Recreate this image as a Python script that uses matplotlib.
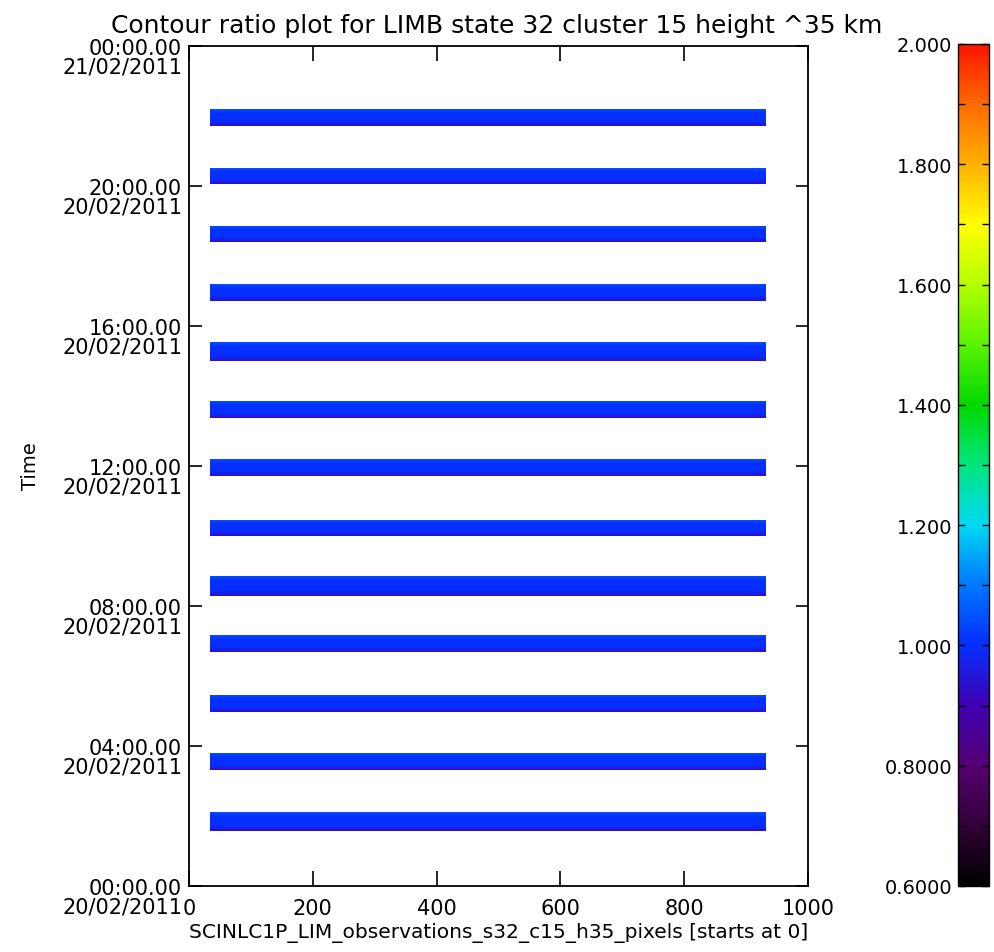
import numpy as np
import matplotlib
matplotlib.use('Agg')
import matplotlib.pyplot as plt
from matplotlib.colors import LinearSegmentedColormap
from matplotlib.transforms import ScaledTranslation

# time of each measurement band, hours after 00:00 20/02/2011
band_start = [1.57, 3.29, 4.97, 6.67, 8.27, 9.98, 11.71, 13.35, 15.00, 16.70, 18.38, 20.05, 21.71]
band_end = [2.10, 3.76, 5.45, 7.13, 8.84, 10.43, 12.17, 13.81, 15.53, 17.16, 18.83, 20.50, 22.19]
pixel_first = 34
pixel_last = 932
# ratio across each band, bottom row to top row
band_profile = [0.94, 0.98, 1.00, 1.00, 1.005, 1.00, 1.01, 1.04]

ytick_hours = [0, 4, 8, 12, 16, 20, 24]
ytick_labels = ['00:00.00\n20/02/2011', '04:00.00\n20/02/2011', '08:00.00\n20/02/2011',
                '12:00.00\n20/02/2011', '16:00.00\n20/02/2011', '20:00.00\n20/02/2011',
                '00:00.00\n21/02/2011']
xticks = [0, 200, 400, 600, 800, 1000]
cbar_ticks = [0.6, 0.8, 1.0, 1.2, 1.4, 1.6, 1.8, 2.0]
cbar_labels = ['0.6000', '0.8000', '1.000', '1.200', '1.400', '1.600', '1.800', '2.000']

# rainbow + black like IDL colour table
cmap = LinearSegmentedColormap.from_list('idl_rainbow', [
    (0.000, (0.0, 0.0, 0.0)),
    (0.071, (0.20, 0.0, 0.22)),
    (0.143, (0.33, 0.0, 0.45)),
    (0.214, (0.25, 0.0, 0.70)),
    (0.286, (0.02, 0.18, 1.0)),
    (0.357, (0.0, 0.47, 1.0)),
    (0.429, (0.0, 0.85, 0.95)),
    (0.500, (0.0, 0.90, 0.50)),
    (0.571, (0.0, 0.85, 0.0)),
    (0.643, (0.35, 0.95, 0.0)),
    (0.714, (0.70, 1.0, 0.0)),
    (0.786, (1.0, 1.0, 0.0)),
    (0.857, (1.0, 0.70, 0.0)),
    (0.929, (1.0, 0.42, 0.0)),
    (1.000, (1.0, 0.08, 0.0)),
])

fig = plt.figure(figsize=(9.94, 9.53), dpi=100)
ax = fig.add_axes([0.1901, 0.0696, 0.6227, 0.8816])
cax = fig.add_axes([0.9638, 0.0693, 0.0312, 0.8835])

prof = np.array(band_profile)
grid = np.column_stack([prof, prof])
for s, e in zip(band_start, band_end):
    im = ax.imshow(grid, extent=(pixel_first, pixel_last, s, e), origin='lower',
                   aspect='auto', interpolation='bilinear', cmap=cmap, vmin=0.6, vmax=2.0)

ax.set_xlim(0, 1000)
ax.set_ylim(0, 24)
for sp in ax.spines.values():
    sp.set_linewidth(1.3)

ax.set_xticks(xticks)
ax.set_xticklabels([str(v) for v in xticks])
ax.tick_params(axis='x', direction='in', length=11, width=1.2, top=True, labelsize=15, pad=9)
ax.set_yticks(ytick_hours)
ax.set_yticklabels(ytick_labels, linespacing=0.92)
ax.tick_params(axis='y', direction='in', length=9, width=1.2, right=True, labelsize=15, pad=5)
for lab in ax.get_yticklabels():
    lab.set_verticalalignment('top')
    lab.set_transform(lab.get_transform() + ScaledTranslation(0, 0.08, fig.dpi_scale_trans))

ax.set_xlabel('SCINLC1P_LIM_observations_s32_c15_h35_pixels [starts at 0]', fontsize=14.5, labelpad=3)
ax.set_ylabel('Time', fontsize=14, labelpad=16)
fig.text(0.5, 0.973, 'Contour ratio plot for LIMB state 32 cluster 15 height ^35 km',
         ha='center', va='center', fontsize=18)

cb = fig.colorbar(im, cax=cax)
cb.outline.set_linewidth(1.0)
cb.set_ticks(cbar_ticks)
cb.set_ticklabels(cbar_labels)
cax.yaxis.set_ticks_position('both')
cax.yaxis.set_label_position('left')
cax.tick_params(axis='y', which='both', direction='in', length=5, width=1.0,
                left=True, right=True, labelleft=True, labelright=False, labelsize=14, pad=4)
cax.set_yticks([0.7, 0.9, 1.1, 1.3, 1.5, 1.7, 1.9], minor=True)

fig.savefig('out.png', dpi=100)
